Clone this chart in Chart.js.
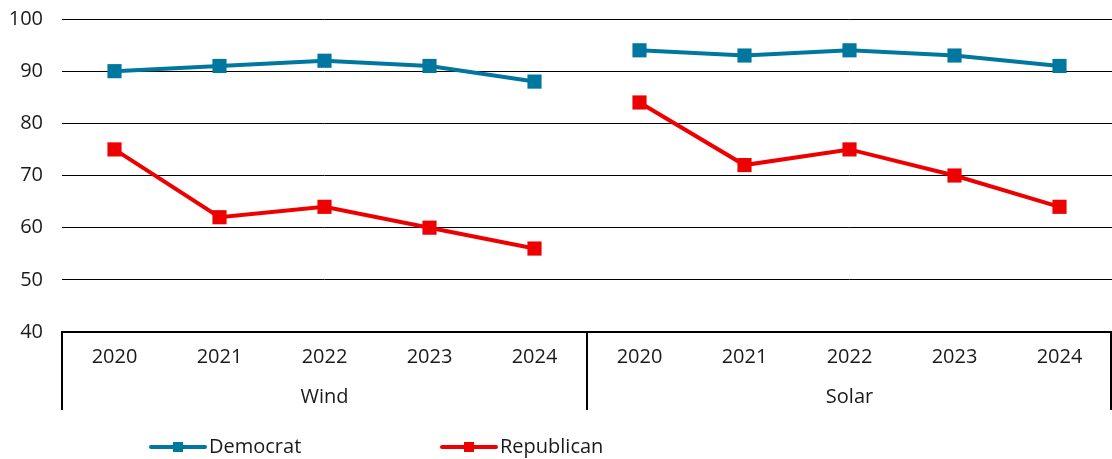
<!DOCTYPE html>
<html><head><meta charset="utf-8">
<script src="https://cdn.jsdelivr.net/npm/chart.js@4"></script>
<style>html,body{margin:0;padding:0;background:#fff}#wrap{width:1112px;height:459px}</style>
</head><body><div id="wrap"><canvas id="c" width="1112" height="459"></canvas></div>
<script>
const categories = ['2020','2021','2022','2023','2024','2020','2021','2022','2023','2024'];
const groups = ['Wind','Solar'];
const democrat = [90,91,92,91,88,94,93,94,93,91];
const republican = [75,62,64,60,56,84,72,75,70,64];
const yTicks = [40,50,60,70,80,90,100];

const FONT = '"Open Sans", "Noto Sans", sans-serif';
const FS = 20;
const TXT = '#1a1a1a';
const BLUE = '#00779E';
const RED = '#EE0000';

const seg = (col) => ({ borderColor: ctx => ctx.p0DataIndex === 4 ? 'rgba(0,0,0,0)' : col });

const groupPlugin = {
  id: 'groupPlugin',
  afterDraw(chart) {
    const ctx = chart.ctx, xs = chart.scales.x, ca = chart.chartArea;
    const top = ca.bottom, bot = 410;
    const step = xs.getPixelForValue(1) - xs.getPixelForValue(0);
    const bounds = [xs.getPixelForValue(0) - step/2, xs.getPixelForValue(4) + step/2, xs.getPixelForValue(9) + step/2];
    ctx.save();
    ctx.strokeStyle = '#000'; ctx.lineWidth = 2;
    bounds.forEach((b,i) => {
      const x = i === 2 ? Math.min(b, chart.width - 1) : b;
      ctx.beginPath(); ctx.moveTo(x, top); ctx.lineTo(x, bot); ctx.stroke();
    });
    ctx.fillStyle = TXT; ctx.font = FS + 'px ' + FONT; ctx.textAlign = 'center'; ctx.textBaseline = 'middle';
    groups.forEach((g,i) => {
      const cx = xs.getPixelForValue(i*5 + 2);
      ctx.fillText(g, cx, 397);
    });
    const items = [{label:'Democrat', col:BLUE, x:151}, {label:'Republican', col:RED, x:442}];
    items.forEach(it => {
      const y = 447;
      ctx.strokeStyle = it.col; ctx.lineWidth = 4; ctx.lineCap = 'round';
      ctx.beginPath(); ctx.moveTo(it.x, y); ctx.lineTo(it.x + 54, y); ctx.stroke();
      ctx.fillStyle = it.col; ctx.fillRect(it.x + 22, y - 5, 10, 10);
      ctx.fillStyle = TXT; ctx.textAlign = 'left';
      ctx.fillText(it.label, it.x + 58, y);
    });
    ctx.restore();
  }
};

new Chart(document.getElementById('c'), {
  type: 'line',
  data: {
    labels: categories,
    datasets: [
      { label: 'Democrat', data: democrat, borderColor: BLUE, backgroundColor: BLUE, borderWidth: 4,
        pointStyle: 'rect', pointRadius: 10, pointHoverRadius: 10, pointBorderWidth: 0, segment: seg(BLUE), tension: 0, clip: false },
      { label: 'Republican', data: republican, borderColor: RED, backgroundColor: RED, borderWidth: 4,
        pointStyle: 'rect', pointRadius: 10, pointHoverRadius: 10, pointBorderWidth: 0, segment: seg(RED), tension: 0, clip: false }
    ]
  },
  options: {
    responsive: false, animation: false,
    layout: { autoPadding: false, padding: { top: 19, right: 0, left: 0, bottom: 0 } },
    plugins: { legend: { display: false }, tooltip: { enabled: false } },
    scales: {
      x: {
        offset: true,
        grid: { display: false, drawTicks: false },
        border: { display: true, color: '#000', width: 2 },
        ticks: { color: TXT, font: { family: FONT, size: FS }, padding: 13, maxRotation: 0, autoSkip: false },
        afterFit(s) { s.height = 127; s.paddingLeft = 0; s.paddingRight = 0; }
      },
      y: {
        min: 40, max: 100,
        afterBuildTicks(s) { s.ticks = yTicks.map(v => ({ value: v })); },
        grid: { color: '#000', lineWidth: 1, drawTicks: false },
        border: { display: false },
        ticks: { color: TXT, font: { family: FONT, size: FS }, padding: 19 },
        afterFit(s) { s.width = 62; s.paddingTop = 0; s.paddingBottom = 0; }
      }
    }
  },
  plugins: [groupPlugin]
});
</script>
</body></html>
